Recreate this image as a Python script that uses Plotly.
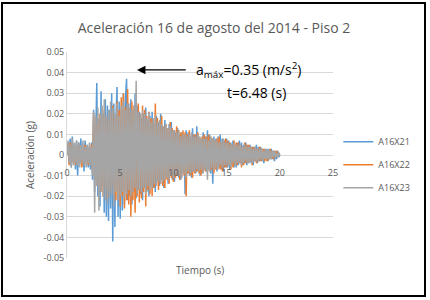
import plotly.graph_objects as go

# sampling interval (s) of the records
dt = 0.1
t0 = 0.0

series_names = ["A16X21", "A16X22", "A16X23"]
series_colors = ["#5B9BD5", "#ED7D31", "#A5A5A5"]

a16x21 = [
    0.000, 0.006, -0.004, 0.008, -0.006, 0.009, -0.003, 0.005, -0.007, 0.007,
    -0.010, 0.006, -0.004, 0.008, -0.005, 0.004, -0.008, 0.007, -0.003, 0.005,
    -0.006, 0.004, -0.007, 0.006, -0.012, 0.022, -0.018, 0.015, 0.035, -0.020,
    0.018, -0.025, 0.031, -0.015, 0.020, -0.028, 0.027, -0.030, 0.024, -0.032,
    0.022, -0.026, 0.030, -0.042, 0.025, -0.035, 0.018, 0.033, -0.030, 0.026,
    -0.031, 0.022, -0.027, 0.030, -0.024, 0.028, 0.037, -0.022, 0.025, -0.020,
    0.027, -0.024, 0.022, -0.018, 0.030, -0.021, 0.024, -0.017, 0.021, -0.019,
    0.018, -0.022, 0.020, -0.016, 0.023, -0.018, 0.017, -0.020, 0.019, -0.014,
    0.021, -0.016, 0.015, -0.018, 0.019, -0.013, 0.016, -0.015, 0.020, -0.012,
    0.014, -0.016, 0.017, -0.011, 0.013, -0.014, 0.015, -0.010, 0.016, -0.012,
    0.012, -0.013, 0.011, -0.010, 0.013, -0.011, 0.010, -0.012, 0.011, -0.009,
    0.010, -0.019, 0.012, -0.009, 0.011, -0.010, 0.009, -0.011, 0.013, -0.008,
    0.010, -0.009, 0.014, -0.008, 0.009, -0.010, 0.008, -0.009, 0.011, -0.007,
    0.009, -0.008, 0.012, -0.007, 0.010, -0.009, 0.008, -0.014, 0.009, -0.007,
    0.008, -0.008, 0.009, -0.006, 0.010, -0.007, 0.008, -0.008, 0.007, -0.006,
    0.008, -0.006, 0.007, -0.007, 0.006, -0.005, 0.007, -0.006, 0.005, -0.006,
    0.006, -0.005, 0.007, -0.004, 0.006, -0.005, 0.005, -0.004, 0.006, -0.005,
    0.005, -0.004, 0.005, -0.004, 0.004, -0.005, 0.004, -0.003, 0.005, -0.004,
    0.004, -0.003, 0.004, -0.003, 0.003, -0.004, 0.003, -0.002, 0.003, -0.003,
    0.003, -0.002, 0.003, -0.002, 0.002, -0.003, 0.002, -0.002, 0.002, -0.001,
    0.000,
]

a16x22 = [
    0.000, 0.004, -0.005, 0.006, -0.003, 0.005, -0.004, 0.003, -0.005, 0.004,
    -0.003, 0.005, -0.004, 0.003, -0.006, 0.004, -0.003, 0.005, -0.004, 0.003,
    -0.005, 0.004, -0.003, 0.005, -0.008, 0.020, -0.012, 0.016, -0.015, 0.018,
    -0.014, 0.020, -0.018, 0.015, -0.020, 0.022, -0.016, 0.019, -0.021, 0.017,
    -0.018, 0.021, -0.015, 0.024, -0.020, 0.018, -0.022, 0.026, -0.019, 0.022,
    -0.025, 0.028, -0.020, 0.030, -0.026, 0.023, -0.022, 0.032, -0.024, 0.021,
    -0.030, 0.026, -0.022, 0.024, -0.028, 0.022, -0.020, 0.025, -0.023, 0.020,
    -0.021, 0.024, -0.018, 0.022, -0.025, 0.019, -0.017, 0.021, -0.019, 0.018,
    -0.020, 0.017, -0.016, 0.025, -0.015, 0.018, -0.017, 0.016, -0.014, 0.019,
    -0.015, 0.014, -0.016, 0.015, -0.012, 0.013, -0.014, 0.016, -0.011, 0.013,
    -0.013, 0.012, -0.011, 0.014, -0.010, 0.012, -0.012, 0.011, -0.009, 0.012,
    -0.010, 0.011, -0.020, 0.010, -0.009, 0.012, -0.010, 0.009, -0.011, 0.010,
    -0.009, 0.010, -0.008, 0.011, -0.009, 0.008, -0.010, 0.009, -0.008, 0.010,
    -0.008, 0.009, -0.007, 0.010, -0.008, 0.009, -0.007, 0.008, -0.009, 0.007,
    -0.007, 0.008, -0.006, 0.009, -0.007, 0.006, -0.008, 0.007, -0.006, 0.008,
    -0.006, 0.007, -0.005, 0.006, -0.007, 0.005, -0.006, 0.007, -0.005, 0.006,
    -0.005, 0.006, -0.004, 0.005, -0.006, 0.004, -0.005, 0.006, -0.004, 0.005,
    -0.004, 0.005, -0.003, 0.004, -0.005, 0.004, -0.003, 0.004, -0.004, 0.003,
    -0.003, 0.004, -0.003, 0.003, -0.002, 0.003, -0.003, 0.002, -0.003, 0.002,
    -0.002, 0.003, -0.002, 0.002, -0.002, 0.002, -0.001, 0.002, -0.001, 0.001,
    0.000,
]

a16x23 = [
    0.000, 0.007, -0.004, 0.005, -0.006, 0.008, -0.005, 0.006, -0.004, 0.007,
    -0.005, 0.006, -0.006, 0.005, -0.004, 0.007, -0.005, 0.004, -0.006, 0.005,
    -0.004, 0.006, -0.005, 0.004, -0.010, 0.021, -0.028, 0.019, -0.015, 0.023,
    -0.027, 0.020, -0.018, 0.024, -0.020, 0.027, -0.022, 0.019, -0.024, 0.022,
    -0.021, 0.026, -0.019, 0.023, -0.025, 0.020, -0.018, 0.025, -0.022, 0.019,
    -0.020, 0.024, -0.018, 0.026, -0.021, 0.022, -0.019, 0.025, -0.017, 0.023,
    -0.020, 0.022, -0.018, 0.024, -0.016, 0.036, -0.019, 0.021, -0.017, 0.020,
    -0.018, 0.022, -0.016, 0.020, -0.019, 0.018, -0.015, 0.021, -0.017, 0.016,
    -0.016, 0.018, -0.014, 0.019, -0.015, 0.016, -0.013, 0.017, -0.014, 0.015,
    -0.013, 0.014, -0.012, 0.015, -0.011, 0.013, -0.012, 0.014, -0.010, 0.012,
    -0.011, 0.012, -0.010, 0.011, -0.009, 0.012, -0.010, 0.009, -0.011, 0.010,
    -0.009, 0.010, -0.011, 0.009, -0.008, 0.010, -0.009, 0.011, -0.008, 0.009,
    -0.008, 0.009, -0.007, 0.010, -0.008, 0.009, -0.007, 0.008, -0.009, 0.008,
    -0.007, 0.008, -0.012, 0.007, -0.008, 0.009, -0.006, 0.008, -0.007, 0.007,
    -0.006, 0.007, -0.007, 0.006, -0.005, 0.007, -0.006, 0.008, -0.005, 0.006,
    -0.005, 0.006, -0.005, 0.005, -0.006, 0.005, -0.004, 0.006, -0.005, 0.005,
    -0.004, 0.005, -0.004, 0.005, -0.005, 0.004, -0.004, 0.005, -0.003, 0.004,
    -0.004, 0.004, -0.003, 0.004, -0.004, 0.003, -0.003, 0.004, -0.003, 0.003,
    -0.003, 0.003, -0.002, 0.003, -0.003, 0.002, -0.002, 0.003, -0.002, 0.002,
    -0.002, 0.002, -0.002, 0.002, -0.001, 0.002, -0.001, 0.001, -0.001, 0.001,
    0.000,
]

x_ticks = [0, 5, 10, 15, 20, 25]
y_ticks = [0.05, 0.04, 0.03, 0.02, 0.01, 0, -0.01, -0.02, -0.03, -0.04, -0.05]
y_tick_text = ["0.05", "0.04", "0.03", "0.02", "0.01", "0",
               "-0.01", "-0.02", "-0.03", "-0.04", "-0.05"]

peak_label = "a<sub>máx</sub>=0.35 (m/s<sup>2</sup>)"
time_label = "t=6.48 (s)"

FONT = "Open Sans"
GRAY_TXT = "#595959"

fig = go.Figure()
for i, (name, vals, col) in enumerate(zip(series_names, [a16x21, a16x22, a16x23], series_colors)):
    fig.add_trace(go.Scatter(
        x0=t0, dx=dt, y=vals, mode="lines", name=name,
        line=dict(color=col, width=1.5), legendgroup=name,
    ))

fig.update_layout(
    width=430, height=300,
    margin=dict(l=67, r=97, t=52, b=42),
    paper_bgcolor="white", plot_bgcolor="white",
    font=dict(family=FONT, color=GRAY_TXT, size=9),
    title=dict(text="Aceleración 16 de agosto del 2014 - Piso 2",
               x=0.4977, xanchor="center", xref="container",
               y=0.908, yanchor="middle", yref="container",
               font=dict(family=FONT, size=14, color=GRAY_TXT)),
    showlegend=True,
    legend=dict(x=1.02, xanchor="left", y=0.635, yanchor="top",
                font=dict(family=FONT, size=9, color=GRAY_TXT),
                tracegroupgap=4, itemwidth=30, bgcolor="rgba(0,0,0,0)"),
    xaxis=dict(range=[0, 25], tickvals=x_ticks, anchor="free", position=0.5,
               showgrid=False, zeroline=False, showline=False,
               ticks="outside", ticklen=9, tickcolor="rgba(0,0,0,0)",
               tickfont=dict(family=FONT, size=9, color=GRAY_TXT)),
    yaxis=dict(range=[-0.05, 0.05], tickvals=y_ticks, ticktext=y_tick_text,
               showgrid=True, gridcolor="#D9D9D9", gridwidth=1,
               zeroline=False, showline=True, linecolor="#D9D9D9", linewidth=1,
               ticks="", tickfont=dict(family=FONT, size=9, color=GRAY_TXT)),
)

fig.add_annotation(x=-0.139, y=0.5, xref="paper", yref="paper", text="Aceleración (g)",
                   textangle=-90, showarrow=False, xanchor="center", yanchor="middle",
                   font=dict(family=FONT, size=10, color=GRAY_TXT))
fig.add_annotation(x=0.5, y=-0.058, xref="paper", yref="paper", text="Tiempo (s)",
                   showarrow=False, yanchor="middle",
                   font=dict(family=FONT, size=10, color=GRAY_TXT))
fig.add_annotation(x=6.58, y=0.0413, ax=11.3, ay=0.0413, xref="x", yref="y",
                   axref="x", ayref="y", text="", showarrow=True,
                   arrowhead=2, arrowsize=1.3, arrowwidth=1.3, arrowcolor="black")
fig.add_annotation(x=17.1, y=0.0413, xref="x", yref="y", text=peak_label,
                   showarrow=False, font=dict(family=FONT, size=14, color="black"))
fig.add_annotation(x=17.8, y=0.0302, xref="x", yref="y", text=time_label,
                   showarrow=False, font=dict(family=FONT, size=14, color="black"))

# outer frame around the whole picture
fig.add_shape(type="rect", xref="paper", yref="paper",
              x0=(2 - 67) / 266, x1=(425 - 67) / 266,
              y0=(258 - 296) / 206, y1=(258 - 3) / 206,
              line=dict(color="black", width=2), fillcolor="rgba(0,0,0,0)", layer="above")

fig.write_html("out.html")
